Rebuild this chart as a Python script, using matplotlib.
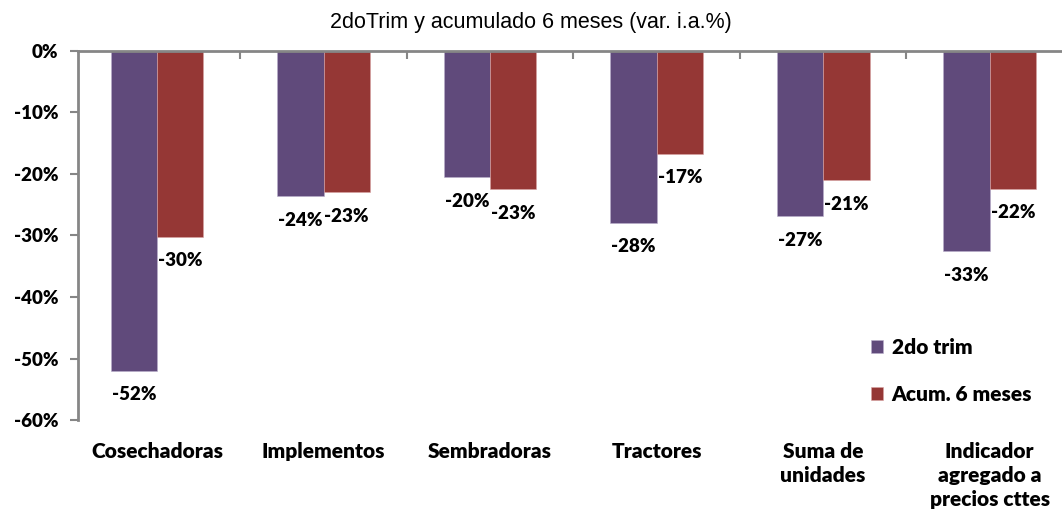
import matplotlib.pyplot as plt
import numpy as np

# data
categorias = ['Cosechadoras', 'Implementos', 'Sembradoras', 'Tractores',
              'Suma de\nunidades', 'Indicador\nagregado a\nprecios cttes']
trim2 = [-52.0, -23.6, -20.5, -27.9, -26.9, -32.6]
acum6 = [-30.2, -23.0, -22.5, -16.7, -21.0, -22.4]
etiq_trim2 = ['-52%', '-24%', '-20%', '-28%', '-27%', '-33%']
etiq_acum6 = ['-30%', '-23%', '-23%', '-17%', '-21%', '-22%']
yticks = [0, -10, -20, -30, -40, -50, -60]

col_trim = '#604A7B'
col_acum = '#953735'
gris = '#868686'
peso = 'heavy'

plt.rcParams['font.family'] = ['Lato', 'DejaVu Sans']

fig = plt.figure(figsize=(10.62, 5.13), dpi=100)
ax = fig.add_axes([78/1062, 93/513, 984/1062, 369/513])

x = np.arange(len(categorias))
w = 0.279
b1 = ax.bar(x - w/2, trim2, w, color=col_trim, edgecolor='#b9aecb', linewidth=0.4, label='2do trim')
b2 = ax.bar(x + w/2, acum6, w, color=col_acum, edgecolor='#d9a3a2', linewidth=0.4, label='Acum. 6 meses')

for bars, labs in ((b1, etiq_trim2), (b2, etiq_acum6)):
    for r, t in zip(bars, labs):
        ax.annotate(t, (r.get_x() + r.get_width()/2, r.get_height()),
                    xytext=(0, -24), textcoords='offset pixels',
                    ha='center', va='center', fontsize=13.5, fontweight=peso)

ax.set_ylim(-60, 0)
ax.set_xlim(-0.4745, 5.435)
ax.set_yticks(yticks)
ax.set_yticklabels([f'{v}%' for v in yticks], fontsize=13.5, fontweight=peso)
ax.tick_params(axis='y', length=6, color=gris, width=1.5, pad=8)

# categories below the plot, separators on the 0% line
ax.set_xticks(x)
ax.set_xticklabels(categorias, fontsize=15, fontweight=peso, va='top', linespacing=1.32)
ax.tick_params(axis='x', which='major', length=0, pad=16)
ax.set_xticks(x[:-1] + 0.5, minor=True)
ax.tick_params(axis='x', which='minor', bottom=False, top=True, direction='in', length=6, color=gris, width=1.5)

for s in ('right', 'bottom'):
    ax.spines[s].set_visible(False)
ax.spines['left'].set_color(gris)
ax.spines['top'].set_color(gris)
ax.spines['left'].set_linewidth(2)
ax.spines['top'].set_linewidth(2)

fig.text(531/1062, 1 - 23/513, '2doTrim y acumulado 6 meses (var. i.a.%)',
         ha='center', va='center', fontsize=15.5, family='Liberation Sans')

ax.legend(loc='upper left', bbox_to_anchor=(852/1062, 1 - 319/513), bbox_transform=fig.transFigure,
          frameon=False, handlelength=0.6, handleheight=0.6, handletextpad=0.4,
          labelspacing=1.35, prop={'size': 15, 'weight': peso})

fig.savefig('out.png', dpi=100)
